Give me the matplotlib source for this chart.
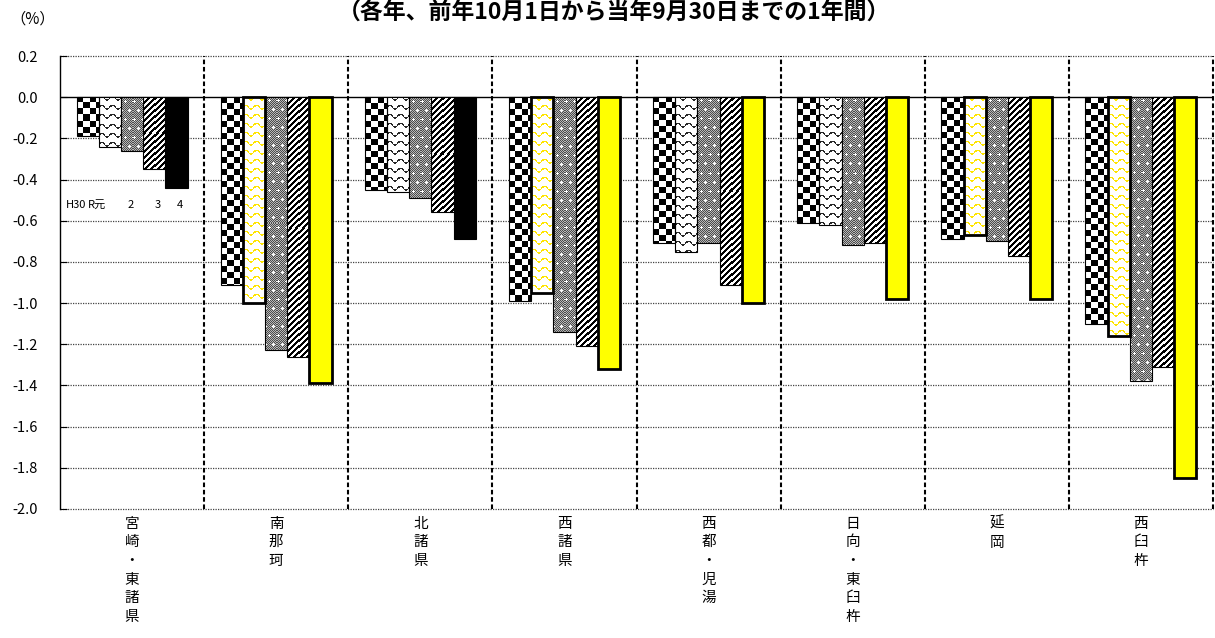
import numpy as np
import matplotlib
matplotlib.use('Agg')
import matplotlib.pyplot as plt

plt.rcParams['font.family'] = ['Noto Sans CJK JP', 'DejaVu Sans']

areas = ['宮崎・東諸県', '南那珂', '北諸県', '西諸県', '西都・児湯', '日向・東臼杵', '延岡', '西臼杵']
years = ['H30', 'R元', '2', '3', '4']
h30 = [-0.19, -0.91, -0.45, -0.99, -0.71, -0.61, -0.69, -1.10]
r1 = [-0.24, -1.00, -0.46, -0.95, -0.75, -0.62, -0.67, -1.16]
r2 = [-0.26, -1.23, -0.49, -1.14, -0.71, -0.72, -0.70, -1.38]
r3 = [-0.35, -1.26, -0.56, -1.21, -0.91, -0.71, -0.77, -1.31]
r4 = [-0.44, -1.39, -0.69, -1.32, -1.00, -0.98, -0.98, -1.85]
# yellow marks on the R元 and 4 bars
hl_r1 = [False, True, False, True, False, False, True, True]
hl_r4 = [False, True, False, True, True, True, True, True]

YELLOW = '#FFFF00'


def texture(kind, w, h, color):
    i, j = np.mgrid[0:h, 0:w]
    img = np.ones((h, w, 3))
    if kind == 'checker':
        img[((i // 6) + (j // 6)) % 2 == 0] = 0
    elif kind == 'wave':
        yy = (i + 2.0 * np.sin(2 * np.pi * j / 10.0)) % 9
        img[yy < 1.6] = color
    elif kind == 'dots':
        base = np.where((i + j) % 2 == 0, 0.3, 0.72)
        img[:] = base[..., None]
        ci = i % 9
        cj = (j + 4 * ((i // 9) % 2)) % 8
        plus = ((ci == 4) & (abs(cj - 4) <= 1)) | ((cj == 4) & (abs(ci - 4) <= 1))
        img[plus] = 1
    elif kind == 'stripe':
        img[(i + j) % 6 < 3] = 0
    return img


fig = plt.figure(figsize=(12.15, 6.38), dpi=100)
ax = fig.add_axes([60 / 1215, 1 - 509 / 638, 1153 / 1215, 453 / 638])
ax.set_xlim(-0.5, 7.5)
ax.set_ylim(-2.0, 0.2)

x = np.arange(len(areas))
width = 0.154
series = [h30, r1, r2, r3, r4]
kinds = ['checker', 'wave', 'dots', 'stripe', None]

for k, vals in enumerate(series):
    pos = x + (k - 2) * width
    if kinds[k] is None:
        colors = [YELLOW if hl else 'black' for hl in hl_r4]
        lws = [2.0 if hl else 0.8 for hl in hl_r4]
        ax.bar(pos, vals, width, color=colors, edgecolor='black', linewidth=lws, zorder=3)
        continue
    bars = ax.bar(pos, vals, width, color='white', edgecolor='none', zorder=2)
    for n, rect in enumerate(bars):
        bb = rect.get_window_extent()
        w = max(int(round(bb.width)), 1)
        h = max(int(round(bb.height)), 1)
        col = (1.0, 0.9, 0.0) if (k == 1 and hl_r1[n]) else (0.15, 0.15, 0.15)
        im = ax.imshow(texture(kinds[k], w, h, col),
                       extent=(rect.get_x(), rect.get_x() + width, vals[n], 0),
                       origin='upper', interpolation='nearest', aspect='auto', zorder=2.5)
        im.set_clip_path(rect)
    lw = [2.0 if (k == 1 and hl) else 0.8 for hl in hl_r1]
    ax.bar(pos, vals, width, fill=False, edgecolor='black', linewidth=lw, zorder=3)

# grid
yt = np.round(np.arange(-2.0, 0.21, 0.2), 1)
for v in yt:
    if v == 0:
        ax.axhline(v, color='black', lw=1.0, zorder=1)
    else:
        ax.axhline(v, color='#444444', lw=0.9, ls=(0, (1, 1)), zorder=1, clip_on=False)
for sep in np.arange(0.5, 8.0, 1.0):
    ax.axvline(sep, color='black', lw=1.5, ls=(0, (2.2, 1.3)), zorder=4, clip_on=False)

ax.set_xlim(-0.5, 7.5)
ax.set_ylim(-2.0, 0.2)
ax.set_yticks(yt)
ax.set_yticklabels(['%.1f' % (v + 0.0) for v in yt], fontsize=10.5)
ax.tick_params(axis='y', direction='in', length=5, pad=16)
ax.set_xticks([])
for s in ['top', 'right', 'bottom']:
    ax.spines[s].set_visible(False)
ax.spines['left'].set_linewidth(1.0)

for i, name in enumerate(areas):
    ax.text(i, -0.017, '\n'.join(name), transform=ax.get_xaxis_transform(),
            ha='center', va='top', fontsize=10.5, linespacing=1.42)

# year legend under first group
for off, lab in zip([-0.386, -0.243, -0.007, 0.18, 0.329], years):
    ax.text(off, -0.525, lab, ha='center', va='center', fontsize=8, zorder=5)

fig.text(0.505, 0.980, '（各年、前年10月1日から当年9月30日までの1年間）',
         ha='center', va='center', fontsize=16.5, fontweight='bold')
fig.text(0.027, 0.970, '（%）', ha='center', va='center', fontsize=11)

fig.savefig('out.png', dpi=100)
